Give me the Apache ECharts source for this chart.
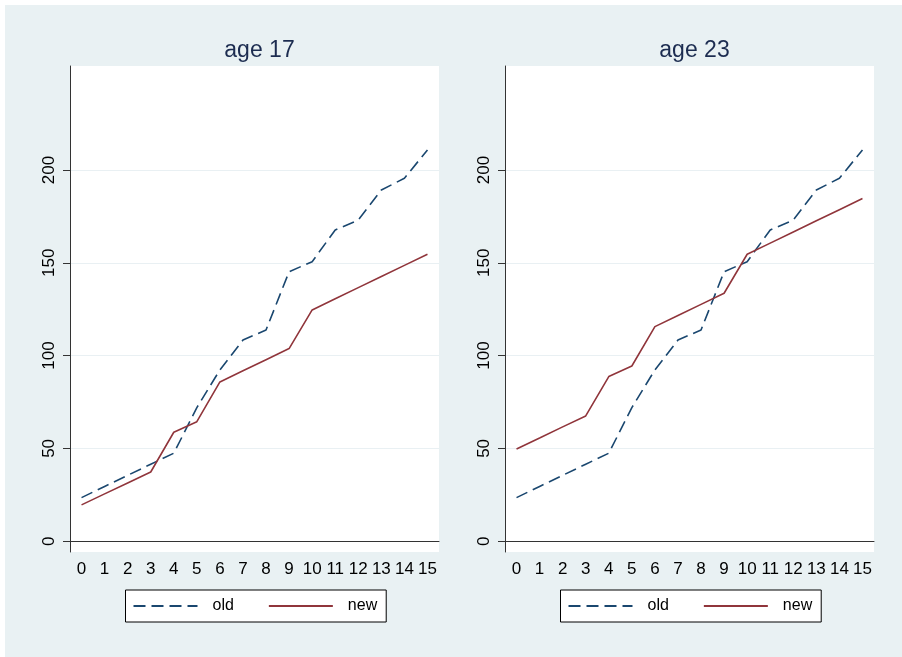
<!DOCTYPE html>
<html lang="en">
<head>
    <meta charset="UTF-8">
    <title>age 17 / age 23</title>
    <script src="https://cdn.jsdelivr.net/npm/echarts@6/dist/echarts.min.js"></script>
    <style>
        html, body { margin: 0; padding: 0; background: #fff; }
    </style>
</head>
<body>
<div id="main" style="width:902px;height:657px;"></div>
<script>
    // x categories
    var years = ['0', '1', '2', '3', '4', '5', '6', '7', '8', '9', '10', '11', '12', '13', '14', '15'];
    // y tick values
    var yTicks = [0, 50, 100, 150, 200];
    var panelTitles = ['age 17', 'age 23'];

    // old schedule (same in both panels)
    var oldVals = [23.5, 29.5, 35.5, 41.5, 47.4, 72, 92.3, 108.4, 113.8, 145.2, 150.6, 167.7, 173, 189.2, 195.5, 210.8];
    // new schedule, age 17
    var new17 = [19.6, 25.5, 31.4, 37.3, 58.7, 64.4, 85.8, 91.8, 97.8, 103.8, 124.6, 130.6, 136.6, 142.6, 148.6, 154.6];
    // new schedule, age 23
    var new23 = [49.7, 55.6, 61.6, 67.5, 88.7, 94.4, 115.6, 121.6, 127.6, 133.6, 154.6, 160.6, 166.6, 172.6, 178.6, 184.6];

    var myChart = echarts.init(document.getElementById('main'));

    var font = 'Liberation Sans, Helvetica, Arial, sans-serif';
    var blue = '#1a476f';
    var red = '#90353b';
    var panelLeft = [70, 505];
    var plotW = 369;

    function makeX(i) {
        return {
            type: 'category', gridIndex: i, data: years, boundaryGap: true,
            axisLine: { lineStyle: { color: '#333', width: 1 } },
            axisTick: { alignWithLabel: true, length: 7, lineStyle: { color: '#333' } },
            axisLabel: { color: '#000', fontSize: 17, fontFamily: font, margin: 9, interval: 0 },
            splitLine: { show: false }
        };
    }

    function makeY(i) {
        return {
            type: 'value', gridIndex: i, min: -5.8, max: 256,
            axisLine: { show: true, lineStyle: { color: '#333', width: 1 } },
            axisTick: { show: true, length: 7, customValues: yTicks, lineStyle: { color: '#333' } },
            axisLabel: { color: '#000', fontSize: 17, fontFamily: font, rotate: 90, margin: 12, customValues: yTicks },
            splitLine: { show: true, lineStyle: { color: '#e9f0f3', width: 1 } }
        };
    }

    function makeLegend(i) {
        return {
            left: panelLeft[i] + plotW / 2 - 129, top: 590,
            orient: 'horizontal',
            data: ['old', 'new'],
            itemWidth: 64, itemHeight: 14, itemGap: 34,
            padding: [8, 9, 8, 7],
            borderColor: '#000', borderWidth: 1,
            backgroundColor: '#fff',
            itemStyle: { opacity: 0, borderWidth: 0 },
            textStyle: { color: '#000', fontSize: 16, fontFamily: font, padding: [0, 0, 0, 10] },
            selectedMode: false
        };
    }

    var option = {
        animation: false,
        backgroundColor: '#fff',
        graphic: [{
            type: 'rect', left: 5, top: 5, z: -10,
            shape: { width: 897, height: 652 },
            style: { fill: '#e9f1f3' }
        }],
        title: panelTitles.map(function (t, i) {
            return {
                text: t, left: panelLeft[i] + plotW / 2, top: 34, textAlign: 'center',
                textStyle: { color: '#1c2c50', fontSize: 23, fontWeight: 'normal', fontFamily: font }
            };
        }),
        legend: [makeLegend(0), makeLegend(1)],
        grid: panelLeft.map(function (l) {
            return { left: l, top: 66, width: plotW, height: 486, show: true, backgroundColor: '#fff', borderWidth: 0 };
        }),
        xAxis: [makeX(0), makeX(1)],
        yAxis: [makeY(0), makeY(1)],
        series: [
            { name: 'old', type: 'line', xAxisIndex: 0, yAxisIndex: 0, data: oldVals, symbol: 'none',
              lineStyle: { color: blue, width: 1.6, type: [12, 6] }, itemStyle: { color: blue } },
            { name: 'new', type: 'line', xAxisIndex: 0, yAxisIndex: 0, data: new17, symbol: 'none',
              lineStyle: { color: red, width: 1.6 }, itemStyle: { color: red } },
            { name: 'old', type: 'line', xAxisIndex: 1, yAxisIndex: 1, data: oldVals, symbol: 'none',
              lineStyle: { color: blue, width: 1.6, type: [12, 6] }, itemStyle: { color: blue } },
            { name: 'new', type: 'line', xAxisIndex: 1, yAxisIndex: 1, data: new23, symbol: 'none',
              lineStyle: { color: red, width: 1.6 }, itemStyle: { color: red } }
        ]
    };

    myChart.setOption(option);
</script>
</body>
</html>
